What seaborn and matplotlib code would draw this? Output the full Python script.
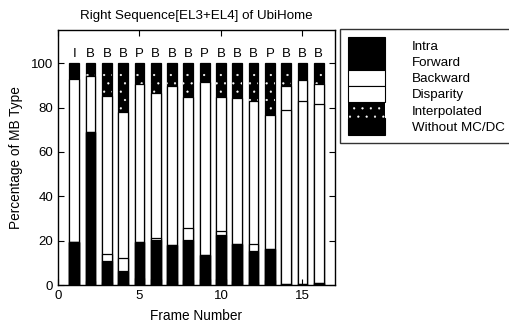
import matplotlib
matplotlib.use("Agg")
import matplotlib.pyplot as plt
import matplotlib.patches as mpatches
import seaborn as sns
import numpy as np
import pandas as pd

# ---- data (percent of macroblocks per frame) ----
frames = list(range(1, 17))
frame_types = ["I", "B", "B", "B", "P", "B", "B", "B", "P", "B", "B", "B", "P", "B", "B", "B"]
intra = [19.5, 2.0, 1.5, 1.0, 3.0, 2.5, 2.0, 2.3, 2.5, 2.5, 2.0, 1.5, 2.2, 0.4, 0.4, 1.0]
forward = [0.0, 67.0, 9.3, 5.5, 16.5, 18.0, 16.0, 18.0, 11.0, 20.0, 16.5, 14.0, 14.0, 0.0, 0.0, 0.0]
backward = [0.0, 0.0, 3.0, 5.8, 0.0, 0.8, 0.0, 5.2, 0.0, 2.0, 0.0, 2.8, 0.0, 78.4, 82.5, 80.8]
disparity = [73.6, 25.4, 71.5, 65.7, 71.0, 65.4, 71.6, 59.3, 78.2, 60.3, 65.9, 64.7, 60.4, 10.8, 9.7, 9.0]
interpolated = [0.0, 3.0, 11.5, 19.0, 5.5, 10.0, 7.0, 12.0, 5.0, 12.0, 12.0, 14.0, 20.0, 7.0, 1.0, 7.0]
without_mcdc = [6.9, 2.6, 3.2, 3.0, 4.0, 3.3, 3.4, 3.2, 3.3, 3.2, 3.6, 3.0, 3.4, 3.4, 6.4, 2.2]

series_names = ["Intra", "Forward", "Backward", "Disparity", "Interpolated", "Without MC/DC"]
series_values = [intra, forward, backward, disparity, interpolated, without_mcdc]
face_colors = ["black", "black", "white", "white", "black", "black"]

plt.rcParams["font.family"] = ["Liberation Sans", "DejaVu Sans"]
plt.rcParams["hatch.color"] = "white"
plt.rcParams["hatch.linewidth"] = 0.35

fig = plt.figure(figsize=(5.09, 3.27), dpi=100)
ax = fig.add_axes([58 / 509, 1 - 285 / 327, (335 - 58) / 509, (285 - 30) / 327])

df = pd.DataFrame({"frame": frames})
for name, vals in zip(series_names, series_values):
    df[name] = vals
cum = df[series_names].cumsum(axis=1)

# draw cumulative bars from tallest to shortest (stacked look)
for i in range(len(series_names) - 1, -1, -1):
    name = series_names[i]
    kws = dict(edgecolor="black", linewidth=0.9)
    if name == "Interpolated":
        kws = dict(linewidth=0, hatch="..")
    sns.barplot(x=df["frame"], y=cum[name], native_scale=True, width=0.6,
                color=face_colors[i], saturation=1, ax=ax, **kws)

# frame type labels
for f, t in zip(frames, frame_types):
    ax.text(f, 104.0, t, ha="center", va="center", fontsize=9.5)

ax.set_xlim(0, 17)
ax.set_ylim(0, 115)
ax.set_xticks([0, 5, 10, 15])
ax.set_yticks([0, 20, 40, 60, 80, 100])
ax.tick_params(direction="in", top=True, right=True, length=4, labelsize=9.5, width=0.8)
for s in ax.spines.values():
    s.set_linewidth(1.0)
ax.set_xlabel("Frame Number", fontsize=9.8, labelpad=5)
ax.set_ylabel("Percentage of MB Type", fontsize=9.8, labelpad=6)
ax.set_title("Right Sequence[EL3+EL4] of UbiHome", fontsize=9.6, pad=8)

handles = []
for i, name in enumerate(series_names):
    if name == "Interpolated":
        h = mpatches.Patch(facecolor="black", hatch="..", linewidth=0)
    else:
        h = mpatches.Patch(facecolor=face_colors[i], edgecolor="black", linewidth=0.8)
    handles.append(h)
leg = fig.legend(handles, series_names, loc="upper left",
                 bbox_to_anchor=(340 / 509, 1 - 29 / 327), fontsize=9.6,
                 frameon=True, fancybox=False, edgecolor="black",
                 handlelength=2.8, handleheight=1.5, labelspacing=0.0,
                 handletextpad=2.0, borderpad=0.6, borderaxespad=0.0)
leg.get_frame().set_linewidth(1.0)

fig.savefig("out.png", dpi=100)
